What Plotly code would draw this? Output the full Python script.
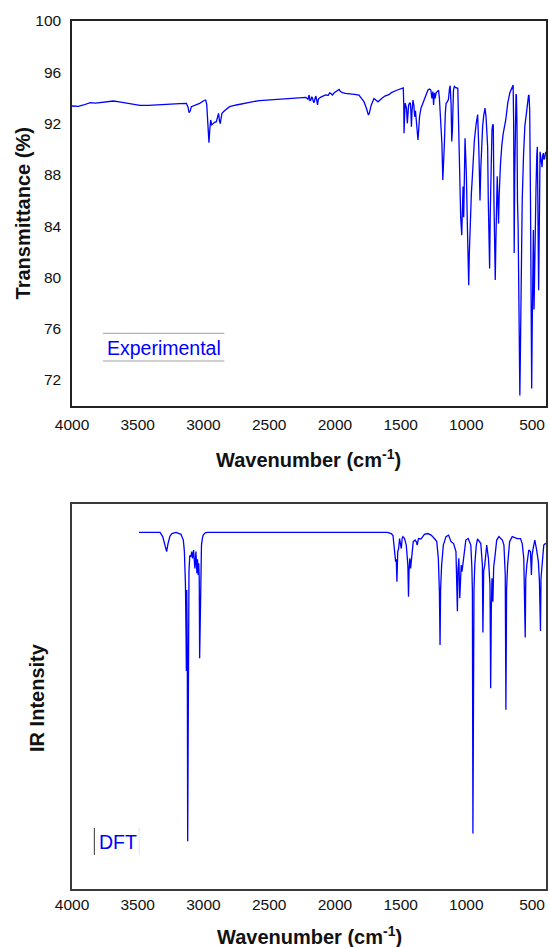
import plotly.graph_objects as go
from plotly.subplots import make_subplots

# ---------------- data ----------------
exp_wavenumber = [
    4000, 3950, 3912, 3861, 3820, 3786, 3740, 3685, 3640, 3584, 3530, 3483, 3420, 3331, 3250, 3180,
    3130, 3118, 3109, 3100, 3092, 3060, 3029, 2995, 2983, 2975, 2970, 2962, 2958, 2952, 2945, 2937,
    2928, 2915, 2902, 2890, 2885, 2878, 2872, 2866, 2859, 2840, 2801, 2750, 2700, 2640, 2574, 2500,
    2448, 2380, 2322, 2260, 2221, 2205, 2196, 2190, 2183, 2176, 2170, 2164, 2158, 2150, 2145, 2138,
    2132, 2126, 2120, 2100, 2069, 2050, 2040, 2032, 2019, 2005, 1994, 1980, 1968, 1958, 1943, 1920,
    1893, 1850, 1817, 1800, 1779, 1760, 1745, 1738, 1725, 1703, 1672, 1640, 1620, 1590, 1570, 1530,
    1494, 1480, 1476, 1474, 1470, 1465, 1461, 1455, 1449, 1445, 1439, 1432, 1426, 1422, 1418, 1413,
    1406, 1399, 1393, 1387, 1381, 1374, 1368, 1362, 1356, 1345, 1330, 1310, 1292, 1280, 1270, 1262,
    1255, 1249, 1243, 1237, 1230, 1222, 1211, 1205, 1198, 1192, 1186, 1179, 1172, 1167, 1160, 1154,
    1145, 1136, 1128, 1123, 1116, 1111, 1106, 1098, 1091, 1080, 1065, 1060, 1053, 1047, 1043, 1035,
    1029, 1025, 1020, 1015, 1010, 1005, 1000, 992, 986, 982, 977, 969, 962, 954, 947, 939,
    925, 914, 905, 900, 896, 890, 884, 876, 868, 858, 850, 844, 838, 833, 827, 823,
    818, 812, 805, 800, 795, 790, 784, 780, 775, 770, 765, 760, 755, 750, 744, 740,
    730, 720, 700, 685, 669, 655, 644, 640, 636, 632, 628, 622, 619, 615, 611, 606,
    600, 596, 593, 589, 585, 581, 575, 565, 555, 543, 535, 527, 523, 518, 512, 508,
    505, 503, 499, 495, 490, 487, 485, 481, 478, 475, 470, 464, 460, 456, 452, 450,
    447, 443, 439, 434, 429, 424, 419, 414, 409, 404, 400, 396,
]
exp_transmittance = [
    93.37, 93.35, 93.45, 93.63, 93.60, 93.63, 93.70, 93.76, 93.70, 93.58, 93.50, 93.42, 93.42, 93.45, 93.50, 93.55,
    93.58, 93.30, 92.85, 93.00, 93.32, 93.45, 93.58, 93.80, 93.84, 93.50, 92.80, 91.00, 90.50, 91.50, 92.28, 91.90,
    92.00, 92.10, 92.15, 92.50, 92.80, 92.20, 92.00, 92.40, 92.80, 93.00, 93.32, 93.45, 93.58, 93.68, 93.79, 93.84,
    93.89, 93.93, 93.97, 94.00, 94.05, 93.90, 94.23, 93.80, 93.84, 94.10, 93.97, 93.70, 93.63, 94.00, 94.15, 93.80,
    93.45, 93.90, 93.97, 94.10, 94.23, 94.20, 94.40, 94.36, 94.23, 94.40, 94.49, 94.55, 94.67, 94.50, 94.41, 94.35,
    94.30, 94.28, 94.23, 94.00, 93.71, 93.20, 92.67, 92.80, 93.40, 93.95, 93.70, 94.00, 94.15, 94.25, 94.41, 94.60,
    94.75, 94.78, 93.50, 91.24, 92.50, 93.60, 93.45, 93.20, 92.02, 93.00, 93.45, 93.60, 93.58, 93.00, 91.76, 93.00,
    93.84, 93.40, 92.54, 93.00, 92.00, 91.30, 90.72, 91.60, 92.54, 93.20, 93.58, 94.20, 94.62, 94.70, 94.62, 93.97,
    94.50, 93.45, 94.40, 93.97, 94.40, 94.49, 94.60, 93.97, 92.50, 90.72, 90.46, 87.60, 88.80, 90.46, 92.80, 93.58,
    93.70, 93.90, 94.75, 94.95, 93.50, 90.60, 91.50, 94.60, 94.90, 94.80, 94.75, 92.00, 88.60, 85.50, 84.70, 83.30,
    85.00, 87.10, 84.70, 88.00, 90.85, 89.50, 88.10, 84.00, 80.50, 79.40, 82.00, 85.00, 86.50, 87.90, 89.50, 90.70,
    92.00, 92.70, 90.00, 87.50, 86.00, 88.50, 90.50, 91.80, 92.60, 93.20, 92.50, 91.00, 90.20, 86.00, 82.50, 80.70,
    85.00, 89.50, 91.50, 91.90, 91.90, 86.00, 81.00, 79.80, 83.00, 86.50, 87.90, 86.00, 84.20, 86.50, 88.20, 88.90,
    90.30, 91.20, 92.30, 93.60, 94.40, 94.80, 95.00, 92.00, 81.90, 88.00, 93.50, 94.30, 94.20, 92.00, 86.00, 84.00,
    78.00, 72.50, 70.80, 74.00, 79.00, 82.40, 86.00, 89.50, 91.80, 92.80, 93.60, 94.20, 94.20, 93.00, 86.00, 80.00,
    79.80, 71.35, 76.00, 81.00, 83.70, 80.00, 77.50, 80.00, 83.50, 84.00, 87.00, 89.50, 90.20, 86.00, 80.00, 79.00,
    82.00, 87.50, 89.80, 89.40, 88.80, 88.60, 89.50, 89.70, 89.20, 89.30, 89.60, 89.80,
]

dft_wavenumber = [
    3490, 3330, 3310, 3289, 3280, 3270, 3255, 3240, 3209, 3171, 3153, 3145, 3141, 3137, 3133, 3130,
    3127, 3123, 3120, 3117, 3114, 3110, 3104, 3095, 3089, 3083, 3075, 3065, 3057, 3050, 3045, 3040,
    3036, 3032, 3029, 3025, 3020, 3015, 3008, 3002, 2987, 2970, 1600, 1585, 1571, 1558, 1549, 1545,
    1538, 1533, 1528, 1522, 1515, 1508, 1500, 1495, 1488, 1482, 1470, 1457, 1445, 1440, 1436, 1430,
    1424, 1420, 1412, 1404, 1389, 1380, 1374, 1364, 1344, 1319, 1293, 1268, 1243, 1225, 1213, 1205,
    1200, 1196, 1188, 1175, 1155, 1135, 1117, 1097, 1079, 1074, 1068, 1064, 1057, 1050, 1044, 1039,
    1033, 1016, 1004, 986, 966, 958, 954, 950, 946, 942, 936, 925, 915, 890, 878, 874,
    868, 860, 845, 832, 820, 815, 810, 805, 798, 792, 784, 769, 752, 726, 714, 704,
    699, 694, 686, 671, 651, 613, 588, 575, 563, 556, 552, 548, 540, 525, 512, 505,
    500, 492, 479, 467, 452, 444, 436, 432, 422, 411, 399, 394,
]
dft_intensity = [
    0.0, 0.0, 1.1, 3.7, 5.0, 3.0, 1.0, 0.3, 0.0, 0.5, 2.0, 5.0, 8.5, 13.5, 25.0, 36.0,
    15.0, 30.0, 80.3, 61.0, 25.0, 10.0, 6.0, 6.3, 5.0, 6.75, 4.6, 9.35, 5.0, 10.6, 7.0, 11.1,
    8.0, 12.0, 32.7, 20.0, 5.0, 3.3, 1.5, 0.7, 0.1, 0.0, 0.0, 0.1, 0.3, 0.8, 4.0, 6.75,
    7.6, 7.0, 12.8, 5.0, 4.2, 1.6, 3.0, 4.2, 1.5, 1.1, 1.6, 3.3, 8.5, 16.7, 10.0, 6.75,
    9.35, 8.0, 6.75, 2.4, 2.0, 2.5, 3.3, 1.6, 1.7, 0.5, 0.3, 0.7, 1.6, 2.4, 6.75, 15.4,
    29.3, 15.0, 8.5, 3.3, 1.1, 0.7, 2.4, 2.9, 5.0, 12.8, 20.5, 10.0, 6.75, 17.1, 10.0, 8.5,
    10.2, 5.0, 2.0, 1.6, 3.3, 9.0, 15.4, 78.3, 40.0, 15.0, 8.5, 3.5, 1.7, 2.9, 8.5, 26.0,
    10.0, 8.5, 3.3, 6.75, 13.7, 40.5, 20.0, 11.9, 18.0, 9.0, 6.75, 2.0, 1.1, 2.0, 3.3, 11.1,
    46.1, 15.0, 8.5, 2.4, 1.1, 1.6, 1.6, 2.9, 6.75, 15.4, 27.3, 12.0, 8.5, 4.6, 5.0, 11.1,
    6.0, 4.2, 2.0, 4.2, 7.6, 12.8, 25.6, 12.0, 6.75, 3.3, 2.9, 3.0,
]

x_tick_values = [4000, 3500, 3000, 2500, 2000, 1500, 1000, 500]
y_tick_values = [72, 76, 80, 84, 88, 92, 96, 100]

# ---------------- figure ----------------
W, H = 549, 947
ML, MR, MT, MB = 72, 1, 21, 58
plot_h = H - MT - MB

top_dom = [(889 - 405.7) / plot_h, 1.0]
bot_dom = [0.0, (889 - 504.3) / plot_h]

fig = make_subplots(rows=2, cols=1)
fig.add_trace(go.Scatter(x=exp_wavenumber, y=exp_transmittance, mode="lines",
                         line=dict(color="#0000ff", width=1.3), showlegend=False,
                         hoverinfo="skip"), row=1, col=1)
fig.add_trace(go.Scatter(x=dft_wavenumber, y=dft_intensity, mode="lines",
                         line=dict(color="#0000ff", width=1.3), showlegend=False,
                         hoverinfo="skip"), row=2, col=1)

FONT = "Liberation Sans, Arial, sans-serif"
tickfont = dict(family=FONT, size=15.5, color="#111111")

common_x = dict(range=[4000, 394], tickvals=x_tick_values, showgrid=False, zeroline=False,
                showline=True, mirror=True, linewidth=1.5,
                ticks="outside", tickcolor="rgba(0,0,0,0)", tickfont=tickfont)
fig.update_layout(
    width=W, height=H,
    margin=dict(l=ML, r=MR, t=MT, b=MB),
    paper_bgcolor="white", plot_bgcolor="white",
    xaxis=dict(domain=[0, 1], ticklen=4, linecolor="#222222", **common_x),
    xaxis2=dict(domain=[0, 1], ticklen=1, linecolor="#3a3a3a", **common_x),
    yaxis=dict(domain=top_dom, range=[70, 100], tickvals=y_tick_values, showgrid=False,
               zeroline=False, showline=True, mirror=True, linecolor="#222222", linewidth=1.5,
               ticks="outside", ticklen=6, tickcolor="rgba(0,0,0,0)", tickfont=tickfont),
    yaxis2=dict(domain=bot_dom, range=[92.7, -7.3], showticklabels=False, showgrid=False,
                zeroline=False, showline=True, mirror=True, linecolor="#3a3a3a", linewidth=1.5,
                ticks=""),
)

def px(x):
    return (x - ML) / (W - ML - MR)

def py(y):
    return (H - MB - y) / plot_h

title_font = dict(family=FONT, size=20, color="#111111")
ann = [
    dict(text="<b>Wavenumber (cm<sup>-1</sup>)</b>", x=px(309), y=py(458)),
    dict(text="<b>Wavenumber (cm<sup>-1</sup>)</b>", x=px(310.7), y=py(935)),
    dict(text="<b>Transmittance (%)</b>", x=px(22.8), y=py(213.4), textangle=-90),
    dict(text="<b>IR Intensity</b>", x=px(36.8), y=py(697), textangle=-90),
]
for a in ann:
    fig.add_annotation(xref="paper", yref="paper", showarrow=False, font=title_font,
                       xanchor="center", yanchor="middle", **a)

leg_font = dict(family=FONT, size=19.5, color="#0000ff")
fig.add_annotation(xref="paper", yref="paper", showarrow=False, text="Experimental",
                   x=px(164), y=py(347.7), xanchor="center", yanchor="middle", font=leg_font)
fig.add_annotation(xref="paper", yref="paper", showarrow=False, text="DFT",
                   x=px(97), y=py(841.7), xanchor="left", yanchor="middle", font=leg_font)

shapes = [
    dict(x0=px(103), x1=px(225), y0=py(333.3), y1=py(333.3), line=dict(color="#a0a0a0", width=1)),
    dict(x0=px(103), x1=px(225), y0=py(361), y1=py(361), line=dict(color="#a0a0a0", width=1)),
    dict(x0=px(94.5), x1=px(94.5), y0=py(828), y1=py(855), line=dict(color="#555555", width=1.2)),
    dict(x0=px(139.4), x1=px(139.4), y0=py(828), y1=py(855), line=dict(color="#e4e4e4", width=1)),
]
for s in shapes:
    fig.add_shape(type="line", xref="paper", yref="paper", **s)

fig.write_html(
    "out.html",
    config={"displayModeBar": False},
    post_script="document.body.style.margin='0';document.body.style.overflow='hidden';",
)
